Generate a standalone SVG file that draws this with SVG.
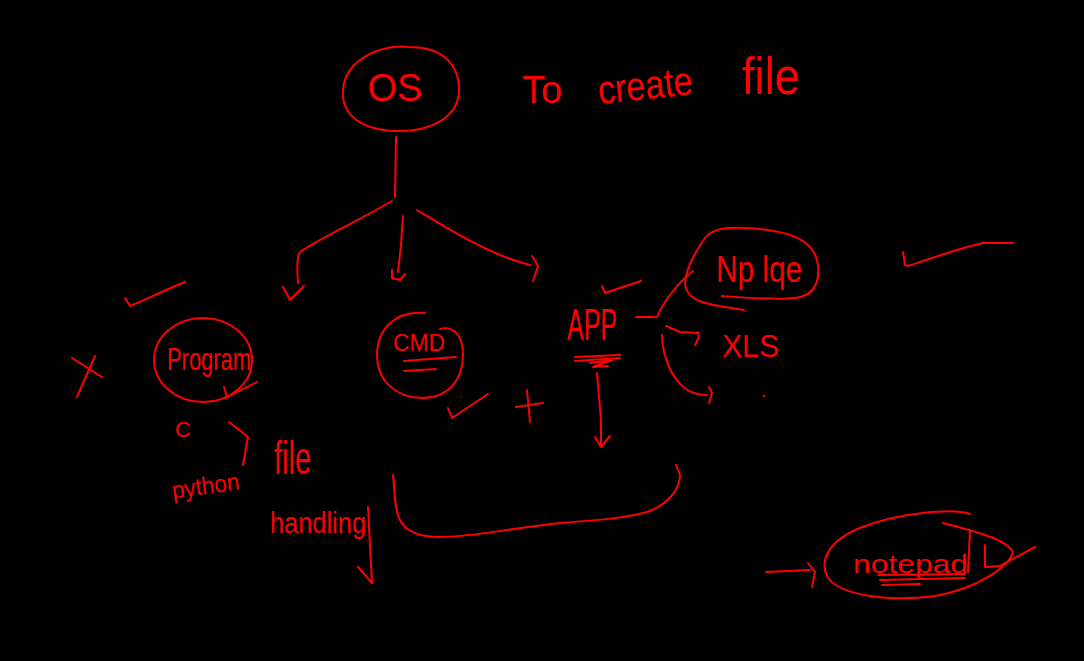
<svg xmlns="http://www.w3.org/2000/svg" width="1084" height="661" viewBox="0 0 1084 661">
<style>
.s{fill:none;stroke:#ff0000;stroke-width:2;stroke-linecap:round;stroke-linejoin:round}
.t{fill:#ff0000;font-family:"Liberation Sans Narrow","Liberation Sans",Arial,sans-serif}
</style>
<rect width="1084" height="661" fill="#000"/>
<g id="title">
<text class="t" x="522" y="103" font-size="38">To</text>
<text class="t" x="597" y="99" font-size="40" textLength="95" lengthAdjust="spacingAndGlyphs" transform="rotate(-6 645 80)">create</text>
<text class="t" x="742" y="94" font-size="52" textLength="58" lengthAdjust="spacingAndGlyphs">file</text>
</g>
<g id="node-os">
<path class="s" d="M410,47 C380,44 345,60 343,90 C341,115 362,130 395,131 C430,132 460,118 459,88 C458,62 440,47 410,47 Z"/>
<text class="t" x="395" y="101" font-size="38" text-anchor="middle">OS</text>
</g>
<g id="node-program">
<ellipse class="s" cx="203" cy="360" rx="49" ry="42"/>
<text class="t" x="167" y="370" font-size="32" textLength="84" lengthAdjust="spacingAndGlyphs">Program</text>
</g>
<g id="node-cmd">
<path class="s" d="M425,313 C395,310 377,330 377,355 C377,382 398,398 422,398 C448,398 463,380 463,355 C463,333 452,326 440,329"/>
<text class="t" x="393" y="351" font-size="24" textLength="52" lengthAdjust="spacingAndGlyphs">CMD</text>
<path class="s" d="M404,361 L456,357 M404,371 L436,369"/>
</g>
<g id="node-app">
<text class="t" x="567" y="340" font-size="44" textLength="50" lengthAdjust="spacingAndGlyphs">APP</text>
<path class="s" d="M575,357 L620,355 M575,361 L620,358 M590,363 L612,360 L593,367 L608,366"/>
</g>
<g id="node-nplqe">
<path class="s" d="M722,296 C750,298 777,300 795,298 C812,296 820,285 818,265 C815,240 790,230 745,228 C725,227 712,229 705,238 C695,252 686,268 685,283 C686,296 695,303 725,307 L744,310"/>
<text class="t" x="716" y="282" font-size="36" textLength="86" lengthAdjust="spacingAndGlyphs">Np lqe</text>
</g>
<g id="node-xls">
<text class="t" x="722" y="357" font-size="32" textLength="57" lengthAdjust="spacingAndGlyphs">XLS</text>
</g>
<g id="node-notepad">
<path class="s" d="M970,514 C955,508 900,512 860,528 C830,540 818,560 828,578 C842,596 890,602 935,596 C980,588 1010,565 1013,552 C1008,542 990,535 943,523"/>
<text class="t" x="853" y="573" font-size="26" textLength="115" lengthAdjust="spacingAndGlyphs">notepad</text>
<path class="s" d="M878,575 L965,574 M880,580 L965,578 M882,585 L920,584 M970,530 L968,572 M985,545 L985,567 L1000,566 L1035,547"/>
</g>
<g id="notes">
<text class="t" x="175" y="437" font-size="22">C</text>
<text class="t" x="172" y="494" font-size="24" textLength="68" lengthAdjust="spacingAndGlyphs" transform="rotate(-8 206 490)">python</text>
<text class="t" x="274" y="474" font-size="46" textLength="37" lengthAdjust="spacingAndGlyphs">file</text>
<text class="t" x="270" y="533" font-size="30" textLength="96" lengthAdjust="spacingAndGlyphs">handling</text>
<path class="s" d="M125,298 L130,306 C145,300 165,290 185,282"/>
<path class="s" d="M72,358 L102,377 M95,356 L77,397"/>
<path class="s" d="M225,398 L257,382 M224,387 L227,397"/>
<path class="s" d="M448,408 L452,418 L488,394"/>
<path class="s" d="M516,407 L543,403 M527,390 L530,422"/>
<path class="s" d="M602,286 L605,293 L641,281"/>
<path class="s" d="M903,252 L905,265 L908,266 C920,262 940,255 967,247 L983,243 L1013,243"/>
<circle cx="764" cy="396" r="1.3" fill="#ff0000"/>
</g>
<g id="connectors">
<path class="s" d="M396,137 L395,197"/>
<path class="s" d="M392,201 C360,220 320,238 300,252 C297,256 297,270 298,283 M283,287 L290,300 L304,286"/>
<path class="s" d="M403,216 L401,245 L398,272 M392,270 L392,278 L400,280 L405,274"/>
<path class="s" d="M417,210 C450,230 490,255 530,265 M532,256 L538,266 L533,281"/>
<path class="s" d="M229,422 L248,437 L243,465"/>
<path class="s" d="M368,507 L370,545 L372,583 L358,567"/>
<path class="s" d="M597,373 L601,420 L601,447 M595,437 L601,447 L610,436"/>
<path class="s" d="M636,317 L655,317 M657,317 C662,305 675,285 693,271"/>
<path class="s" d="M666,326 L680,332 L697,333 M698,332 L699,337 L695,345"/>
<path class="s" d="M662,335 C662,350 668,370 677,380 C684,390 694,395 707,395 M709,387 L712,393 L709,403"/>
<path class="s" d="M393,475 C395,490 394,510 400,520 C406,532 420,537 440,537 C470,537 500,530 560,523 C600,520 625,518 647,512 C667,505 680,490 680,475 L676,465"/>
<path class="s" d="M766,572 L810,570 M808,563 L815,572 L812,587"/>
</g>
</svg>
